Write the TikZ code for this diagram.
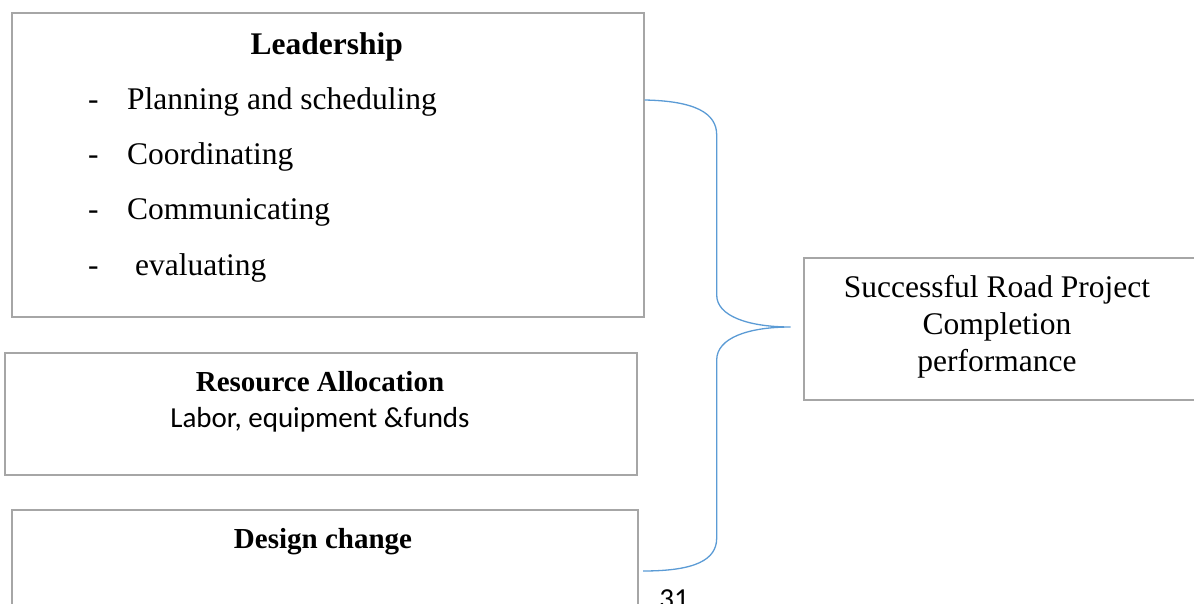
\documentclass[tikz,border=0pt]{standalone}
\usepackage{fontspec}
\setmainfont{Liberation Serif}
\newfontfamily\calfont{Carlito}
\begin{document}
\begin{tikzpicture}[x=1pt,y=-1pt,
  box/.style={draw=boxgray,line width=2pt,anchor=north west,inner sep=0pt},
  txt/.style={anchor=base,inner sep=0pt,font=\fontsize{31.5}{38}\selectfont},
  smalltxt/.style={anchor=base,inner sep=0pt,font=\fontsize{29}{35}\selectfont},
  item/.style={anchor=base west,inner sep=0pt,font=\fontsize{31.5}{38}\selectfont},
  brace/.style={draw=braceblue,line width=1.3pt}]
\definecolor{boxgray}{HTML}{A6A6A6}
\definecolor{braceblue}{HTML}{5B9BD5}
\useasboundingbox (0,0) rectangle (1194,604);
\clip (0,0) rectangle (1194,604);

% boxes
\node[box,minimum width=632pt,minimum height=304pt] (lead) at (10.7,12.3) {};
\node[box,minimum width=632pt,minimum height=122pt] (res) at (4,352) {};
\node[box,minimum width=626pt,minimum height=140pt] (des) at (10.7,509) {};
\node[box,minimum width=420pt,minimum height=142pt] (out) at (802.7,256.5) {};

% leadership box text
\node[txt,font=\fontsize{31.5}{38}\selectfont\bfseries] (leadT) at (326.7,55) {Leadership};
\node[item] (d1) at (88,110) {-};
\node[item] (d2) at (88,165) {-};
\node[item] (d3) at (88,220) {-};
\node[item] (d4) at (88,275) {-};
\node[item] (i1) at (127,110) {Planning and scheduling};
\node[item] (i2) at (127,165) {Coordinating};
\node[item] (i3) at (127,220) {Communicating};
\node[item] (i4) at (135,275) {evaluating};

% resource allocation box text
\node[smalltxt,font=\fontsize{29}{35}\selectfont\bfseries] (resT) at (320,391) {Resource Allocation};
\node[smalltxt,font=\fontsize{29}{35}\calfont] (resS) at (320,427) {Labor, equipment \&funds};

% design change box text
\node[smalltxt,font=\fontsize{29}{35}\selectfont\bfseries] (desT) at (323,548) {Design change};

% outcome box text
\node[txt] (o1) at (997,297) {Successful Road Project};
\node[txt] (o2) at (997,334) {Completion};
\node[txt] (o3) at (997,371) {performance};

% curly bracket joining the three factors to the outcome
\coordinate (bTop) at (lead.east |- 0,100);
\coordinate (bBot) at (643,571);
\coordinate (bTip) at ([xshift=-12pt]out.west |- 0,327);
\draw[brace] (bTop) .. controls (695,101) and (716.7,113) .. (716.7,135)
  -- (716.7,295) .. controls (716.7,316) and (748,327) .. (bTip)
  .. controls (748,327) and (716.7,338) .. (716.7,360)
  -- (716.7,538) .. controls (716.7,560) and (695,571) .. (bBot);

% page number
\node[anchor=base,inner sep=0pt,font=\fontsize{29}{35}\calfont] (pg) at (674,608.5) {31};
\end{tikzpicture}
\end{document}
